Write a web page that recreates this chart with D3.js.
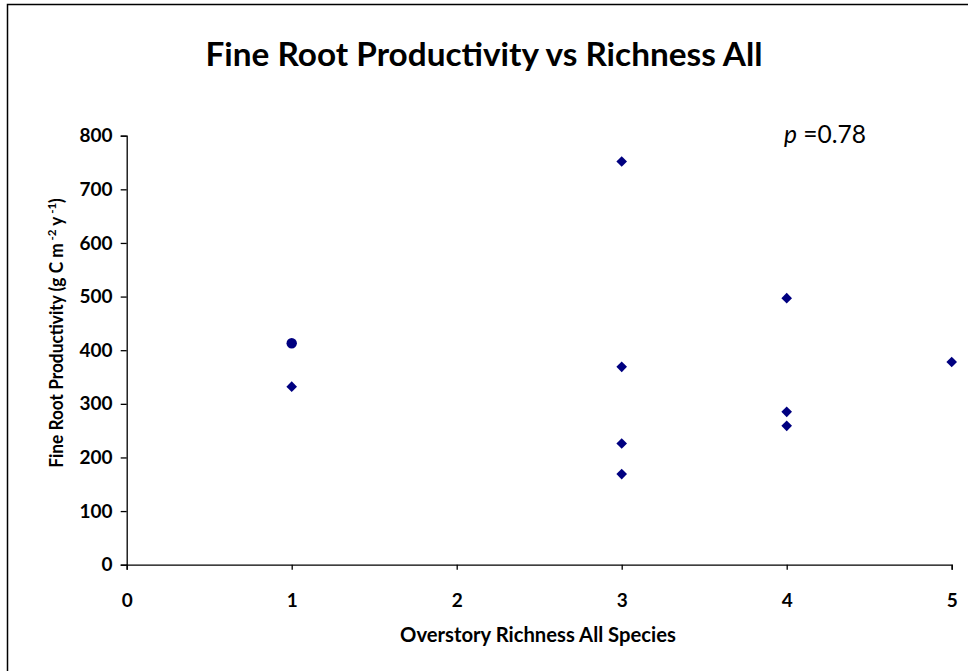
<!DOCTYPE html>
<html><head><meta charset="utf-8">
<script src="https://cdn.jsdelivr.net/npm/d3@7"></script>
<style>body{margin:0;background:#fff}svg{display:block}text{font-family:Lato,"Open Sans",sans-serif}</style>
</head><body><svg id="c" width="968" height="671"></svg>
<script>
const title = "Fine Root Productivity vs Richness All";
const xTitle = "Overstory Richness All Species";
const richness = [1, 1, 3, 3, 3, 3, 4, 4, 4, 5];
const productivity = [413, 332, 752, 369, 226, 169, 497, 285, 259, 378];
const markers = ["circle", "diamond", "diamond", "diamond", "diamond", "diamond", "diamond", "diamond", "diamond", "diamond"];
const xTicks = [0, 1, 2, 3, 4, 5];
const yTicks = [0, 100, 200, 300, 400, 500, 600, 700, 800];
const pLabel = "0.78";

const svg = d3.select("#c");
const W = 968, H = 671;
const m = {l: 126.7, r: 951.7, t: 135.7, b: 564.7};
const x = d3.scaleLinear().domain([0, 5]).range([m.l, m.r]);
const y = d3.scaleLinear().domain([0, 800]).range([m.b, m.t]);

// frame
svg.append("path").attr("d", `M7.5,${H+2}V4.5H${W+2}`).attr("fill", "none").attr("stroke", "#000").attr("stroke-width", 1.5);

function fit(sel, w) {
  const l = sel.node().getComputedTextLength();
  const fs = parseFloat(sel.attr("font-size"));
  sel.attr("font-size", fs * w / l);
}

const t = svg.append("text").attr("x", 484).attr("y", 66).attr("text-anchor", "middle")
  .attr("font-weight", "bold").attr("font-size", 26).text(title);
fit(t, 557);

const xa = svg.append("g").attr("transform", `translate(0,${m.b})`)
  .call(d3.axisBottom(x).tickValues(xTicks).tickSize(5).tickPadding(10).tickFormat(d3.format("d")));
const ya = svg.append("g").attr("transform", `translate(${m.l},0)`)
  .call(d3.axisLeft(y).tickValues(yTicks).tickSize(6).tickPadding(10).tickFormat(d3.format("d")));
[xa, ya].forEach(a => {
  a.attr("font-size", 19).attr("font-family", "Lato, sans-serif").attr("font-weight", "bold");
  a.select(".domain").attr("stroke", "#000").attr("stroke-width", 1.3);
  a.selectAll(".tick line").attr("stroke", "#000").attr("stroke-width", 1.3);
  a.selectAll(".tick text").attr("fill", "#000");
});
xa.selectAll(".tick text").attr("dy", "1.45em");
ya.selectAll(".tick text").attr("dx", "0.1em");

const xt = svg.append("text").attr("x", 538).attr("y", 642).attr("text-anchor", "middle")
  .attr("font-weight", "bold").attr("font-size", 15).text(xTitle);
fit(xt, 276);

const yg = svg.append("g").attr("transform", "translate(63,333) rotate(-90)");
const yt = yg.append("text").attr("text-anchor", "middle").attr("font-weight", "bold").attr("font-size", 18);
yt.append("tspan").text("Fine Root Productivity (g C m");
yt.append("tspan").attr("dy", -7).attr("font-size", 12).text(" -2");
yt.append("tspan").attr("dy", 7).text(" y");
yt.append("tspan").attr("dy", -7).attr("font-size", 12).text(" -1");
yt.append("tspan").attr("dy", 7).text(")");
const len = yt.node().getComputedTextLength();
yt.attr("transform", `scale(${270 / len},1)`);

const pt = svg.append("text").attr("x", 784).attr("y", 143).attr("font-size", 18);
pt.append("tspan").attr("font-style", "italic").text("p");
pt.append("tspan").text(" =" + pLabel);
fit(pt, 82);

const sym = {circle: d3.symbolCircle, diamond: d3.symbolDiamond2};
const pts = richness.map((r, i) => ({x: r, y: productivity[i], m: markers[i]}));
svg.append("g").selectAll("path").data(pts).join("path")
  .attr("transform", d => `translate(${x(d.x)},${y(d.y)})`)
  .attr("d", d => d3.symbol(sym[d.m], d.m === "circle" ? 85 : 72)())
  .attr("fill", "#000080");
</script></body></html>
